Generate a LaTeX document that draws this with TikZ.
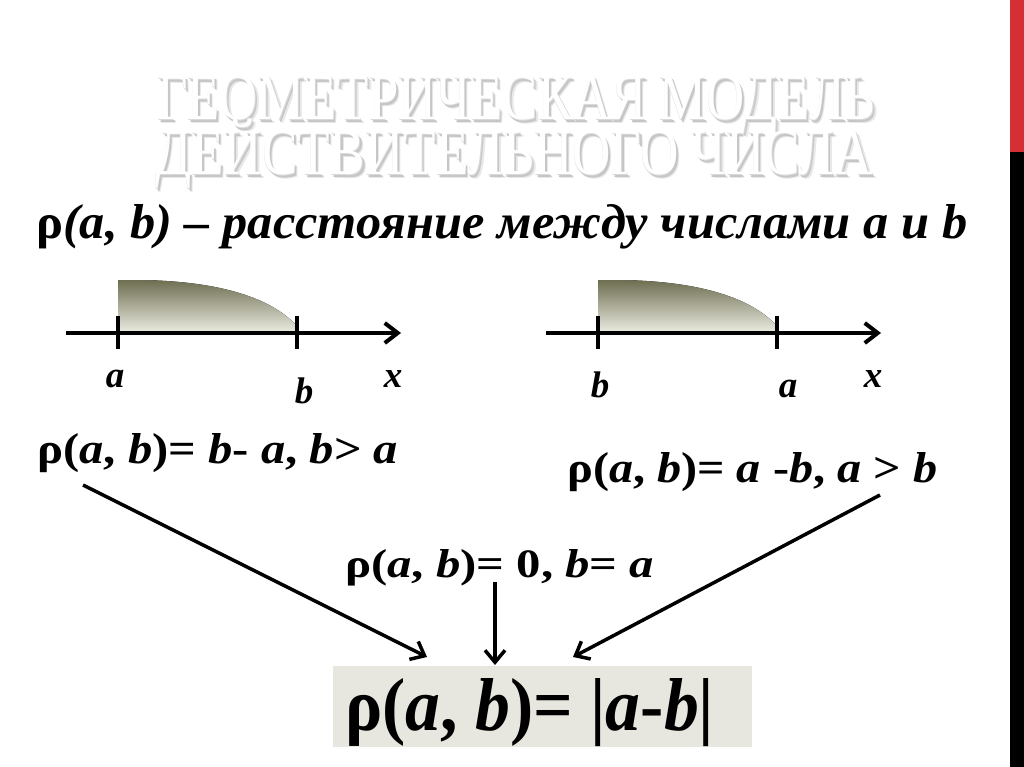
\documentclass[tikz,border=0pt]{standalone}
\usepackage{fontspec}
\setmainfont{Liberation Serif}
\usetikzlibrary{arrows.meta}
\definecolor{barred}{HTML}{D32F34}
\definecolor{olivedark}{HTML}{6E6E52}
\definecolor{olivelight}{HTML}{E8E8DE}
\definecolor{boxfill}{HTML}{E7E7DF}
\newcommand{\fitbox}[4]{\resizebox{#1pt}{#2pt}{#3\vphantom{(}\smash{#4}}}
\newcommand{\titletext}[1]{\resizebox{718pt}{43pt}{\fontsize{65}{70}\selectfont\vphantom{Г}\smash{\rlap{\kern4pt\raisebox{-3.5pt}{\color{gray!18}#1}}\rlap{\kern2.5pt\raisebox{-2.2pt}{\color{gray!45}#1}}\rlap{\kern0.4pt\raisebox{-0.4pt}{\color{gray!30}#1}}\color{white}#1}}}
\newcommand{\rh}{{\upshape ρ}}
\tikzset{
  axisline/.style={line width=4pt, -{Straight Barb[length=13pt,width=20pt]}},
  tick/.style={line width=4pt},
  conn/.style={line width=3.5pt, -{Straight Barb[length=12pt,width=20pt]}},
  txt/.style={inner sep=0pt, anchor=base west},
  lbl/.style={inner sep=0pt, anchor=base, font=\fontsize{37}{40}\selectfont\bfseries\itshape},
  region/.style={top color=olivedark, bottom color=olivelight},
}
\begin{document}
\begin{tikzpicture}[x=1pt,y=-1pt]
\useasboundingbox (0,0) rectangle (1024,767);
\fill[white] (0,0) rectangle (1024,767);
% side bar
\fill[barred] (1010,0) rectangle (1024,152);
\fill[black] (1010,152) rectangle (1024,767);
% title
\node[txt] (t1) at (157,120) {\titletext{ГЕОМЕТРИЧЕСКАЯ МОДЕЛЬ}};
\node[txt] (t2) at (155,175) {\titletext{ДЕЙСТВИТЕЛЬНОГО ЧИСЛА}};
% subtitle
\node[txt] (sub) at (36,238) {\fitbox{931}{34}{\fontsize{40}{44}\selectfont}{\bfseries\itshape \rh(a, b) – расстояние между числами a и b}};
% number line 1
\fill[region] (118,331) -- (118,280) -- (140,280) .. controls (215,281) and (268,296) .. (295,324) -- (295,331) -- cycle;
\coordinate (l1s) at (66,333);
\coordinate (l1e) at (401,333);
\draw[axisline] (l1s) -- (l1e);
\draw[tick] (118,316) -- (118,349);
\draw[tick] (297,316) -- (297,349);
\node[lbl] (la1) at (115,387) {a};
\node[lbl] (lb1) at (304,403) {b};
\node[lbl] (lx1) at (393,387) {x};
% number line 2
\fill[region] (598,331) -- (598,280) -- (620,280) .. controls (695,281) and (748,296) .. (775,324) -- (775,331) -- cycle;
\coordinate (l2s) at (546,333);
\coordinate (l2e) at (881,333);
\draw[axisline] (l2s) -- (l2e);
\draw[tick] (598,316) -- (598,349);
\draw[tick] (777,316) -- (777,349);
\node[lbl] (lb2) at (600,397) {b};
\node[lbl] (la2) at (788,397) {a};
\node[lbl] (lx2) at (873,387) {x};
% formulas
\node[txt] (f1) at (37,463) {\fitbox{361}{30}{\fontsize{36}{40}\selectfont}{\bfseries \rh(\textit{a}, \textit{b})= \textit{b}- \textit{a}, \textit{b}> \textit{a}}};
\node[txt] (f2) at (567,482) {\fitbox{370}{30}{\fontsize{36}{40}\selectfont}{\bfseries \rh(\textit{a}, \textit{b})= \textit{a} -\textit{b}, \textit{a} > \textit{b}}};
\node[txt] (f3) at (345,577) {\fitbox{309}{28}{\fontsize{34}{38}\selectfont}{\bfseries \rh(\textit{a}, \textit{b})= 0, \textit{b}= \textit{a}}};
% bottom box
\node[fill=boxfill, inner sep=0pt, minimum width=419pt, minimum height=81pt, anchor=north west] (fb) at (333,666) {};
\node[txt] (fbt) at (345,730) {\fitbox{369}{52}{\fontsize{60}{64}\selectfont}{\bfseries \rh(\textit{a}, \textit{b})= |\textit{a}-\textit{b}|}};
% connectors
\draw[conn] ([shift={(46,22)}]f1.base west) -- ([shift={(94,-9)}]fb.north west);
\draw[conn] ([shift={(313,13)}]f2.base west) -- ([shift={(240,-9)}]fb.north west);
\draw[conn] ([shift={(150,5)}]f3.base west) -- ([shift={(162,-1)}]fb.north west);
\end{tikzpicture}
\end{document}
